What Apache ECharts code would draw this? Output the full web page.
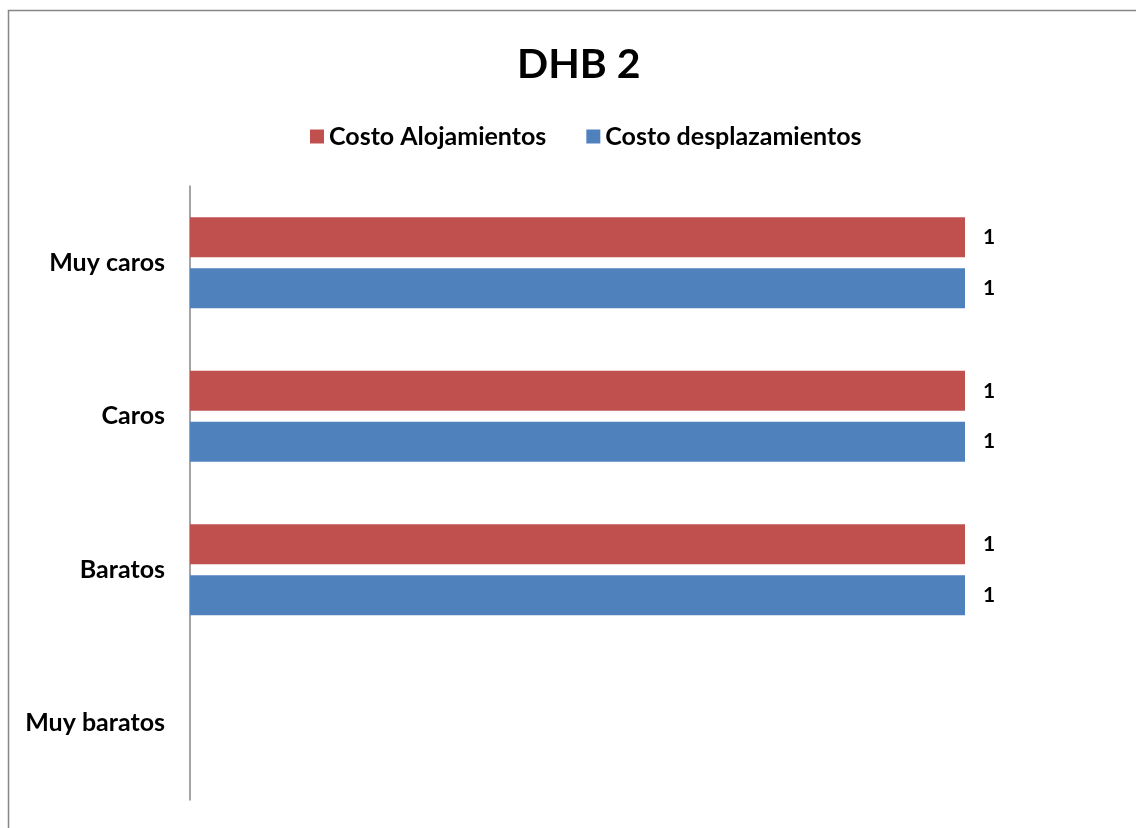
<!DOCTYPE html>
<html>
<head>
<meta charset="utf-8">
<script src="https://cdn.jsdelivr.net/npm/echarts@6/dist/echarts.min.js"></script>
<style>
  html, body { margin: 0; padding: 0; background: #fff; }
  #chart { width: 1136px; height: 828px; }
</style>
</head>
<body>
<div id="chart"></div>
<script>
var categories = ['Muy baratos', 'Baratos', 'Caros', 'Muy caros'];
var alojamientos = [null, 1, 1, 1];
var desplazamientos = [null, 1, 1, 1];

var chartDom = document.getElementById('chart');
var myChart = echarts.init(chartDom);
var font = 'Lato, "Open Sans", sans-serif';

var option = {
  animation: false,
  backgroundColor: '#fff',
  graphic: [{
    type: 'rect',
    shape: { x: 8.5, y: 10.5, width: 1140, height: 830 },
    style: { fill: null, stroke: '#868686', lineWidth: 1.5 },
    silent: true
  }],
  title: {
    text: 'DHB 2',
    left: 512,
    top: 39,
    textStyle: { fontFamily: font, fontWeight: 'bold', fontSize: 41, color: '#000' }
  },
  legend: {
    top: 119,
    left: 305,
    itemWidth: 14,
    itemHeight: 14,
    itemGap: 40,
    icon: 'rect',
    textStyle: { fontFamily: font, fontWeight: 'bold', fontSize: 25, color: '#000' },
    data: ['Costo Alojamientos', 'Costo desplazamientos']
  },
  grid: { left: 190, right: 171, top: 186, bottom: 28 },
  xAxis: {
    type: 'value',
    min: 0,
    max: 1,
    show: false
  },
  yAxis: {
    type: 'category',
    data: categories,
    axisLine: { show: true, lineStyle: { color: '#868686', width: 1.5 } },
    axisTick: { show: false },
    axisLabel: {
      margin: 25,
      fontFamily: font,
      fontWeight: 'bold',
      fontSize: 25,
      color: '#000'
    }
  },
  series: [{
    name: 'Costo Alojamientos',
    type: 'bar',
    data: alojamientos,
    barWidth: 40,
    barGap: '27%',
    itemStyle: { color: '#C0504D' },
    label: {
      show: true, position: 'right', distance: 18,
      fontFamily: font, fontWeight: 'bold', fontSize: 21, color: '#000'
    }
  }, {
    name: 'Costo desplazamientos',
    type: 'bar',
    data: desplazamientos,
    barWidth: 40,
    barGap: '27%',
    itemStyle: { color: '#4F81BD' },
    label: {
      show: true, position: 'right', distance: 18,
      fontFamily: font, fontWeight: 'bold', fontSize: 21, color: '#000'
    }
  }]
};

myChart.setOption(option);

window.onresize = () => {
  myChart.resize();
}
</script>
</body>
</html>
